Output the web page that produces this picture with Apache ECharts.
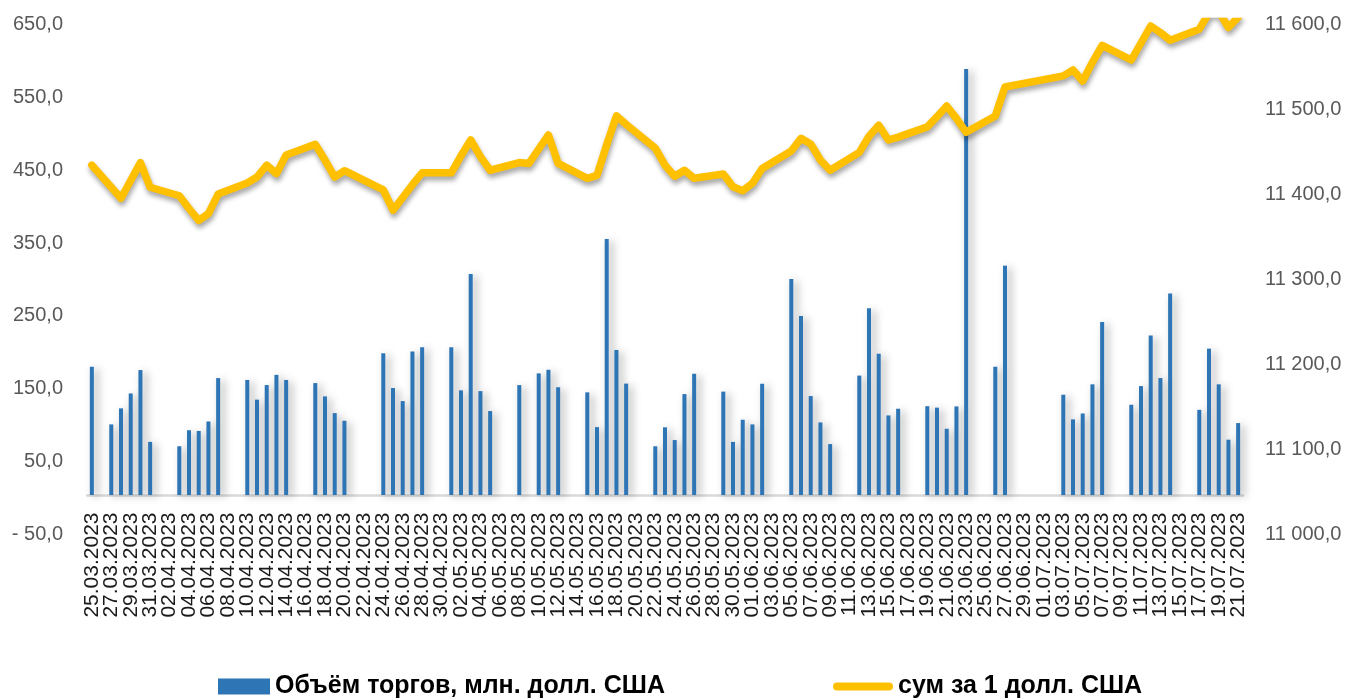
<!DOCTYPE html>
<html>
<head>
<meta charset="utf-8">
<script src="https://cdn.jsdelivr.net/npm/echarts@6/dist/echarts.min.js"></script>
<style>
html,body{margin:0;padding:0;background:#fff;}
#chart{width:1348px;height:698px;}
</style>
</head>
<body>
<div id="chart"></div>
<script>
var categories = [
'25.03.2023','26.03.2023','27.03.2023','28.03.2023','29.03.2023','30.03.2023','31.03.2023',
'01.04.2023','02.04.2023','03.04.2023','04.04.2023','05.04.2023','06.04.2023','07.04.2023','08.04.2023','09.04.2023','10.04.2023',
'11.04.2023','12.04.2023','13.04.2023','14.04.2023','15.04.2023','16.04.2023','17.04.2023','18.04.2023','19.04.2023','20.04.2023',
'21.04.2023','22.04.2023','23.04.2023','24.04.2023','25.04.2023','26.04.2023','27.04.2023','28.04.2023','29.04.2023','30.04.2023',
'01.05.2023','02.05.2023','03.05.2023','04.05.2023','05.05.2023','06.05.2023','07.05.2023','08.05.2023','09.05.2023','10.05.2023',
'11.05.2023','12.05.2023','13.05.2023','14.05.2023','15.05.2023','16.05.2023','17.05.2023','18.05.2023','19.05.2023','20.05.2023',
'21.05.2023','22.05.2023','23.05.2023','24.05.2023','25.05.2023','26.05.2023','27.05.2023','28.05.2023','29.05.2023','30.05.2023','31.05.2023',
'01.06.2023','02.06.2023','03.06.2023','04.06.2023','05.06.2023','06.06.2023','07.06.2023','08.06.2023','09.06.2023','10.06.2023',
'11.06.2023','12.06.2023','13.06.2023','14.06.2023','15.06.2023','16.06.2023','17.06.2023','18.06.2023','19.06.2023','20.06.2023',
'21.06.2023','22.06.2023','23.06.2023','24.06.2023','25.06.2023','26.06.2023','27.06.2023','28.06.2023','29.06.2023','30.06.2023',
'01.07.2023','02.07.2023','03.07.2023','04.07.2023','05.07.2023','06.07.2023','07.07.2023','08.07.2023','09.07.2023','10.07.2023',
'11.07.2023','12.07.2023','13.07.2023','14.07.2023','15.07.2023','16.07.2023','17.07.2023','18.07.2023','19.07.2023','20.07.2023','21.07.2023'
];

// Объём торгов, млн. долл. США (null = no trading)
var volume = [
176,null,97,119,139.5,171.6,73,
null,null,67,89,88,101,160.6,null,null,158,
131,151,165,158,null,null,153.7,135.4,112.5,102,
null,null,null,194.5,146.9,129,197,203,null,null,
203,143.7,303.5,142.7,115.3,null,null,151,null,167,
172,148,null,null,141,93.3,351.5,199,153,null,
null,67,93,75.5,138.6,166.5,null,null,142,73,103.4,
97,152.8,null,null,296.6,245.8,135.9,99.7,70,null,
null,164,256.4,194,109.3,118.5,null,null,122,120,
91,121.7,584.8,null,null,176,314.9,null,null,null,
null,null,137.7,103.9,112,152,237.5,null,null,124,
149.6,218.9,160.6,276.5,null,null,117,201,152,76,98.8
];

// сум за 1 долл. США
var rate = [
11431,null,11405,11392,11413,11434,11405,
null,null,11395,11380,11366,11374,11397,null,null,11410,
11417,11431,11421,11443,null,null,11455.5,11437,11417,11424.5,
null,null,null,11402,11378,11393,11408,11422,null,null,
11422,11442,11460.6,11441,11425,null,null,11434,11433,11450,
11466.5,11433,null,null,11415.5,11419,11455,11489,11479,null,
null,11451,11431,11418,11425,11415.5,null,null,11420.6,11405.6,11401,
11409.6,11427,null,null,11447.6,11462.6,11456,11437,11425,null,
null,11446,11465,11478,11460.6,11464,null,null,11476,11488,
11500.6,11486,11469.6,null,null,11488.8,11523,null,null,null,
null,null,11536,11543,11530,11552,11572,null,null,11554.7,
11574.7,11594.7,11587,11578,null,null,11591,11610,11612,11593,11605
];

var seriesNames = ['Объём торгов, млн. долл. США', 'сум за 1 долл. США'];

function fmtLeft(v){
  var s = Math.abs(v).toFixed(1).replace('.', ',');
  return v < 0 ? '- ' + s : s;
}
function fmtRight(v){
  var s = v.toFixed(1).replace('.', ',');
  var parts = s.split(',');
  var ip = parts[0].replace(/\B(?=(\d{3})+(?!\d))/g, ' ');
  return ip + ',' + parts[1];
}

var chart = echarts.init(document.getElementById('chart'), null, {renderer:'canvas'});
var axisFont = '"Liberation Sans", Arial, sans-serif';
chart.setOption({
  animation: false,
  backgroundColor: '#ffffff',
  grid: {left: 87, right: 105, top: 21.5, bottom: 166.5},
  legend: [
    {
      data: [seriesNames[0]], left: 218, top: 674, padding: 0,
      icon: 'rect', itemWidth: 52, itemHeight: 16,
      textStyle: {fontFamily: axisFont, fontWeight: 'bold', fontSize: 25, color: '#000'}
    },
    {
      data: [seriesNames[1]], left: 833, top: 674, padding: 0,
      icon: 'path://M4,0 L56,0 A4,4 0 0 1 56,8 L4,8 A4,4 0 0 1 4,0 Z',
      itemWidth: 60, itemHeight: 8,
      textStyle: {fontFamily: axisFont, fontWeight: 'bold', fontSize: 25, color: '#000'}
    }
  ],
  xAxis: {
    type: 'category',
    data: categories,
    boundaryGap: true,
    axisLine: {show: true, onZero: true, lineStyle: {color: '#D9D9D9', width: 2.5}},
    axisTick: {show: false},
    axisLabel: {
      interval: 0, rotate: 90, margin: -19, hideOverlap: false,
      formatter: function (v, i) { return i % 2 === 0 ? v : ''; },
      fontFamily: axisFont, fontSize: 21, color: '#1a1a1a'
    },
    splitLine: {show: false}
  },
  yAxis: [
    {
      type: 'value', min: -50, max: 650, interval: 100,
      axisLine: {show: false}, axisTick: {show: false}, splitLine: {show: false},
      axisLabel: {formatter: fmtLeft, margin: 24, verticalAlign: 'top', lineHeight: 6, fontFamily: axisFont, fontSize: 20, color: '#595959'}
    },
    {
      type: 'value', min: 11000, max: 11600, interval: 100,
      axisLine: {show: false}, axisTick: {show: false}, splitLine: {show: false},
      axisLabel: {formatter: fmtRight, margin: 22, verticalAlign: 'top', lineHeight: 6, fontFamily: axisFont, fontSize: 20, color: '#595959'}
    }
  ],
  series: [
    {
      name: seriesNames[0],
      type: 'bar',
      yAxisIndex: 0,
      data: volume,
      barWidth: 4,
      itemStyle: {
        color: '#2E75B6',
        shadowColor: 'rgba(0,0,0,0.35)', shadowBlur: 8, shadowOffsetX: 4, shadowOffsetY: 2
      }
    },
    {
      name: seriesNames[1],
      type: 'line',
      yAxisIndex: 1,
      data: rate,
      connectNulls: true,
      showSymbol: false,
      symbol: 'none',
      clip: true,
      itemStyle: {color: '#FFC000'},
      lineStyle: {
        color: '#FFC000', width: 7.5, join: 'round', cap: 'round',
        shadowColor: 'rgba(0,0,0,0.35)', shadowBlur: 5, shadowOffsetX: 1, shadowOffsetY: 4
      },
      z: 3
    }
  ]
});
</script>
</body>
</html>
